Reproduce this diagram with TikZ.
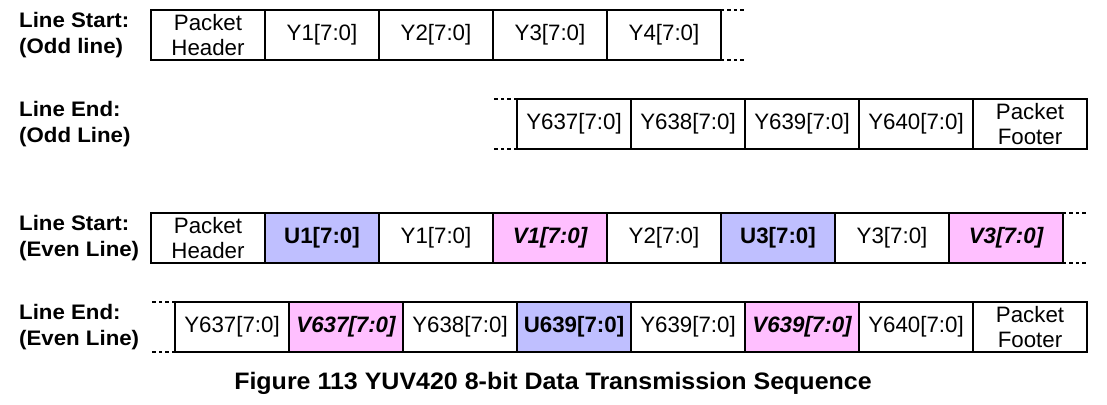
\documentclass[tikz,border=0pt]{standalone}
\usepackage{fontspec}
\setmainfont{Liberation Sans}
\newfontfamily\lblfam[FakeStretch=1.06]{Liberation Sans}
\newfontfamily\capfam[FakeStretch=1.05]{Liberation Sans}
\definecolor{ucol}{HTML}{BFBFFF}
\definecolor{vcol}{HTML}{FFBFFF}
\begin{document}
\begin{tikzpicture}[x=1pt,y=-1pt,
  cell/.style={draw, line width=1.5pt, minimum width=114pt, minimum height=50pt,
    inner sep=0pt, outer sep=0pt, anchor=north west, align=center,
    font=\fontsize{22.3}{25}\selectfont},
  ucell/.style={cell, fill=ucol, font=\fontsize{22.3}{25}\selectfont\bfseries},
  vcell/.style={cell, fill=vcol, font=\fontsize{22.3}{25}\selectfont\bfseries\itshape},
  frame/.style={draw, line width=2.6pt},
  dots/.style={line width=2.8pt, dash pattern=on 3.4pt off 3pt},
  lbl/.style={anchor=west, align=left, inner sep=0pt,
    font=\lblfam\fontsize{21}{25.5}\selectfont\bfseries},
  captxt/.style={inner sep=0pt, font=\capfam\fontsize{23.8}{27}\selectfont\bfseries}]
\useasboundingbox (0,0) rectangle (1107,404);

% ---------- Row 1 ----------
\node[lbl] (l1) at (19,35) {Line Start:\\(Odd line)};
\node[cell] (a1) at (151,10) {Packet\\Header};
\node[cell] (a2) at (a1.north east) {Y1[7:0]};
\node[cell] (a3) at (a2.north east) {Y2[7:0]};
\node[cell] (a4) at (a3.north east) {Y3[7:0]};
\node[cell] (a5) at (a4.north east) {Y4[7:0]};
\draw[frame] (a1.north west) rectangle (a5.south east);
\coordinate (a1t) at (746,10);
\coordinate (a1b) at (746,60);
\draw[dots] (a5.north east) -- (a1t);
\draw[dots] (a5.south east) -- (a1b);

% ---------- Row 2 ----------
\node[lbl] (l2) at (19,124) {Line End:\\(Odd Line)};
\node[cell] (b1) at (517,99) {Y637[7:0]};
\node[cell] (b2) at (b1.north east) {Y638[7:0]};
\node[cell] (b3) at (b2.north east) {Y639[7:0]};
\node[cell] (b4) at (b3.north east) {Y640[7:0]};
\node[cell] (b5) at (b4.north east) {Packet\\Footer};
\draw[frame] (b1.north west) rectangle (b5.south east);
\coordinate (b1t) at (492,99);
\coordinate (b1b) at (492,149);
\draw[dots] (b1.north west) -- (b1t);
\draw[dots] (b1.south west) -- (b1b);

% ---------- Row 3 ----------
\node[lbl] (l3) at (19,238) {Line Start:\\(Even Line)};
\node[cell] (c1) at (151,213) {Packet\\Header};
\node[ucell] (c2) at (c1.north east) {U1[7:0]};
\node[cell] (c3) at (c2.north east) {Y1[7:0]};
\node[vcell] (c4) at (c3.north east) {V1[7:0]};
\node[cell] (c5) at (c4.north east) {Y2[7:0]};
\node[ucell] (c6) at (c5.north east) {U3[7:0]};
\node[cell] (c7) at (c6.north east) {Y3[7:0]};
\node[vcell] (c8) at (c7.north east) {V3[7:0]};
\draw[frame] (c1.north west) rectangle (c8.south east);
\coordinate (c1t) at (1088,213);
\coordinate (c1b) at (1088,263);
\draw[dots] (c8.north east) -- (c1t);
\draw[dots] (c8.south east) -- (c1b);

% ---------- Row 4 ----------
\node[lbl] (l4) at (19,327) {Line End:\\(Even Line)};
\node[cell] (d1) at (175,302) {Y637[7:0]};
\node[vcell] (d2) at (d1.north east) {V637[7:0]};
\node[cell] (d3) at (d2.north east) {Y638[7:0]};
\node[ucell] (d4) at (d3.north east) {U639[7:0]};
\node[cell] (d5) at (d4.north east) {Y639[7:0]};
\node[vcell] (d6) at (d5.north east) {V639[7:0]};
\node[cell] (d7) at (d6.north east) {Y640[7:0]};
\node[cell] (d8) at (d7.north east) {Packet\\Footer};
\draw[frame] (d1.north west) rectangle (d8.south east);
\coordinate (d1t) at (150,302);
\coordinate (d1b) at (150,352);
\draw[dots] (d1.north west) -- (d1t);
\draw[dots] (d1.south west) -- (d1b);

% ---------- Caption ----------
\node[captxt] (cap) at (553,383) {Figure 113 YUV420 8-bit Data Transmission Sequence};
\end{tikzpicture}
\end{document}
